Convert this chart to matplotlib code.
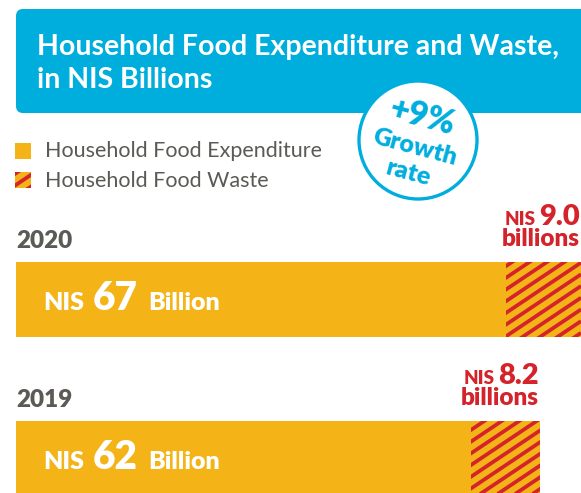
import matplotlib
matplotlib.use("Agg")
import matplotlib.pyplot as plt
from matplotlib.transforms import Affine2D
from matplotlib.patches import FancyBboxPatch, Circle, Rectangle
from matplotlib.collections import LineCollection
import numpy as np

# ---- data ----
years = ["2020", "2019"]
expenditure = [67, 62]          # NIS billions
waste = [9.0, 8.2]              # NIS billions
title_lines = ["Household Food Expenditure and Waste,", "in NIS Billions"]
legend_labels = ["Household Food Expenditure", "Household Food Waste"]
growth_text = ["+9%", "Growth", "rate"]

# ---- style ----
BLUE = "#00AEDE"
YELLOW = "#F4B316"
RED = "#D4232A"
GRAY = "#5B5A55"
FONT = "Lato"
W, H = 581, 493

plt.rcParams["font.family"] = [FONT, "DejaVu Sans"]
fig = plt.figure(figsize=(W / 100, H / 100), dpi=100)
ax = fig.add_axes([0, 0, 1, 1])
ax.set_axis_off()
px_per_unit = 8.45
x0_px = 16
ax.set_xlim(-x0_px / px_per_unit, (W - x0_px) / px_per_unit)
ax.set_ylim(H, 0)

# pixel transform (image coords, y down)
px = Affine2D().scale(1, -1).translate(0, H)

renderer = fig.canvas.get_renderer()

def width_of(t):
    return t.get_window_extent(renderer=renderer).width

# ---- title box ----
box = FancyBboxPatch((16, 9), 575, 104, boxstyle="round,pad=0,rounding_size=7",
                     facecolor=BLUE, edgecolor="none", transform=px, zorder=1)
fig.add_artist(box)
fig.text(37, H - 55, title_lines[0], transform=None, color="white", fontsize=20.5,
         fontweight="bold", va="baseline", ha="left", zorder=3)
fig.text(37, H - 88, title_lines[1], transform=None, color="white", fontsize=20.5,
         fontweight="bold", va="baseline", ha="left", zorder=3)

# ---- growth circle ----
circ = Circle((418, 140), 59, transform=px, facecolor="white", edgecolor=BLUE,
              linewidth=2.4, zorder=4)
fig.add_artist(circ)
rot = -15
for (txt, cx, cy, fs) in [(growth_text[0], 422, 117, 24), (growth_text[1], 415, 147, 18),
                          (growth_text[2], 409, 173, 18)]:
    fig.text(cx, H - cy, txt, transform=None, color=BLUE, fontsize=fs, fontweight="heavy",
             ha="center", va="center", rotation=rot, rotation_mode="anchor", zorder=5)

# ---- legend ----
fig.add_artist(Rectangle((15, 143), 16, 16, transform=px, facecolor=YELLOW, edgecolor="none"))
leg_waste = Rectangle((15, 172), 16, 16, transform=px, facecolor=YELLOW, edgecolor="none")
fig.add_artist(leg_waste)
fig.text(45, H - 157, legend_labels[0], transform=None, color=GRAY, fontsize=15.5, va="baseline")
fig.text(45, H - 187, legend_labels[1], transform=None, color=GRAY, fontsize=15.5, va="baseline")

def add_stripes(patch):
    sp = 11.7
    slope = 0.67
    segs = []
    for c in np.arange(-600, 1400, sp):
        segs.append([(0, c), (W, c - slope * W)])
    lc = LineCollection(segs, colors=RED, linewidths=2.7, transform=px, zorder=3)
    lc.set_clip_path(patch)
    fig.add_artist(lc)

add_stripes(leg_waste)

# ---- bars ----
bar_tops = [262, 421]
bar_h = 75
centers = [t + bar_h / 2 for t in bar_tops]
ax.barh(centers, expenditure, height=bar_h, left=0, color=YELLOW, zorder=2)
wbars = ax.barh(centers, waste, height=bar_h,
                left=[e - w for e, w in zip(expenditure, waste)], color=YELLOW, zorder=2)
for p in wbars.patches:
    add_stripes(p)

for yr, e, w, top in zip(years, expenditure, waste, bar_tops):
    # year label
    fig.text(16, H - (top - 14), yr, transform=None, color=GRAY, fontsize=17.5,
             fontweight="heavy", va="baseline")
    # inside label
    base = H - (top + 48)
    xs = 43
    t1 = fig.text(xs, base, "NIS", transform=None, color="white", fontsize=18,
                  fontweight="heavy", va="baseline", zorder=6)
    xs += width_of(t1) + 9
    t2 = fig.text(xs, base, f"{e:g}", transform=None, color="white", fontsize=28,
                  fontweight="heavy", va="baseline", zorder=6)
    xs += width_of(t2) + 10
    fig.text(xs, base, "Billion", transform=None, color="white", fontsize=18,
             fontweight="heavy", va="baseline", zorder=6)
    # waste label, right aligned at bar end
    xend = ax.transData.transform((e, 0))[0]
    xr = min(xend - 1, W - 1)
    t3 = fig.text(xr, H - (top - 37), f"{w:.1f}", transform=None, color=RED, fontsize=21,
                  fontweight="heavy", va="baseline", ha="right")
    fig.text(xr - width_of(t3) - 4, H - (top - 37), "NIS", transform=None, color=RED,
             fontsize=13.5, fontweight="heavy", va="baseline", ha="right")
    fig.text(xr, H - (top - 16), "billions", transform=None, color=RED, fontsize=17.5,
             fontweight="heavy", va="baseline", ha="right")

fig.savefig("out.png", dpi=100)
